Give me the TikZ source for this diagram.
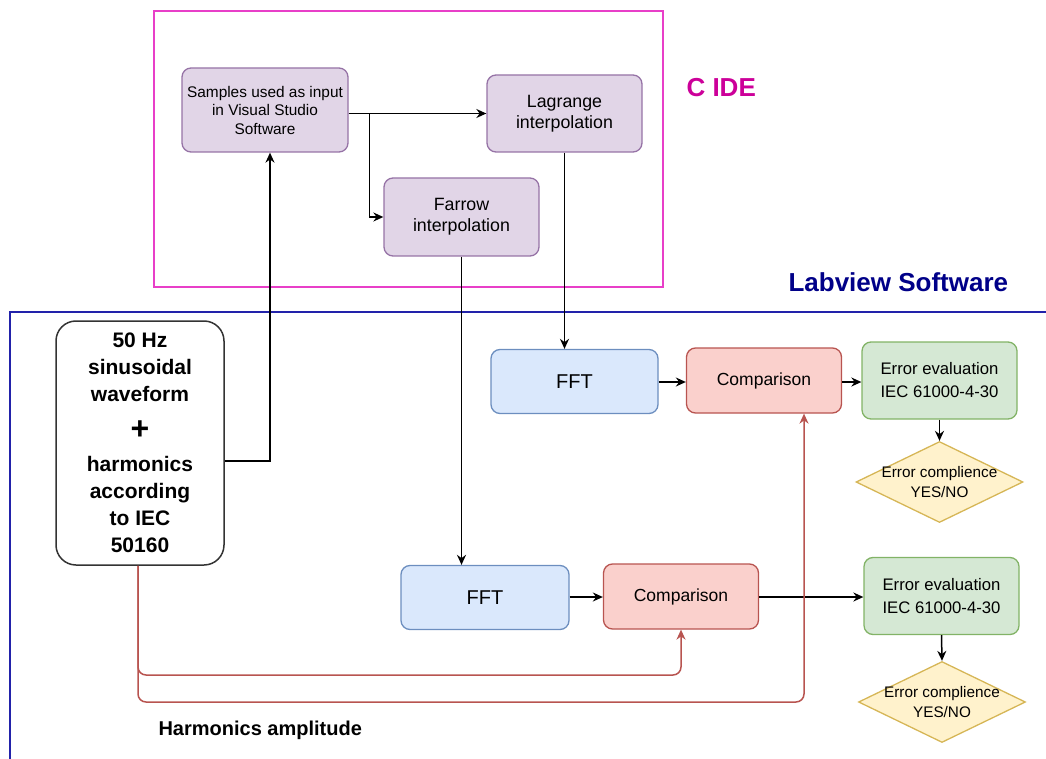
\documentclass[tikz,border=0pt]{standalone}
\usepackage{fontspec}
\setmainfont{Liberation Sans}
\usetikzlibrary{arrows.meta,shapes.geometric}
\definecolor{purpF}{HTML}{E1D5E7}
\definecolor{purpD}{HTML}{9673A6}
\definecolor{blueF}{HTML}{DAE8FC}
\definecolor{blueD}{HTML}{6C8EBF}
\definecolor{redF}{HTML}{FAD0CC}
\definecolor{redD}{HTML}{B85450}
\definecolor{greenF}{HTML}{D5E8D4}
\definecolor{greenD}{HTML}{82B366}
\definecolor{yelF}{HTML}{FFF2CC}
\definecolor{yelD}{HTML}{D6B656}
\definecolor{pinkD}{HTML}{E83FC8}
\definecolor{pinkT}{HTML}{CC0099}
\definecolor{navyT}{HTML}{000088}
\definecolor{blueL}{HTML}{2222AA}
\begin{document}
\begin{tikzpicture}[x=1pt,y=-1pt,
  box/.style={rounded corners=9pt, line width=1.3pt, align=center, inner sep=0pt},
  purp/.style={box, fill=purpF, draw=purpD},
  fftbox/.style={box, fill=blueF, draw=blueD, minimum height=64pt, font=\fontsize{20}{24}\selectfont},
  compbox/.style={box, fill=redF, draw=redD, minimum width=155pt, minimum height=65pt, font=\fontsize{17.5}{21}\selectfont},
  evalbox/.style={box, fill=greenF, draw=greenD, minimum width=155pt, minimum height=77pt, font=\fontsize{16.7}{23}\selectfont},
  decis/.style={diamond, fill=yelF, draw=yelD, line width=1.3pt, inner sep=0pt, minimum width=167pt, minimum height=81pt},
  decistext/.style={align=center, font=\fontsize{15.3}{20}\selectfont},
  arr/.style={line width=1.5pt, -{Stealth[length=10pt,width=9pt]}},
  redarr/.style={line width=1.5pt, draw=redD, rounded corners=8pt, -{Stealth[length=10pt,width=9pt]}},
]
\useasboundingbox (0,0) rectangle (1046,759);

% frames
\draw[pinkD, line width=1.5pt] (154,11) rectangle (663,287);
\node[anchor=west, text=pinkT, font=\fontsize{26}{30}\selectfont\bfseries] (cide) at (683,88) {C IDE};
\draw[blueL, line width=1.5pt] (1046,312) -- (10,312) -- (10,759);
\node[anchor=west, text=navyT, font=\fontsize{26}{30}\selectfont\bfseries] (labv) at (785,282) {Labview Software};

% C IDE boxes
\node[purp, minimum width=166pt, minimum height=84pt, font=\fontsize{15.4}{18.5}\selectfont] (samples) at (265,110) {Samples used as input\\in Visual Studio\\Software};
\node[purp, minimum width=155pt, minimum height=77pt, font=\fontsize{17.8}{21}\selectfont] (lagr) at (564.5,113.5) {Lagrange\\interpolation};
\node[purp, minimum width=155pt, minimum height=78pt, font=\fontsize{17.8}{21}\selectfont] (farr) at (461.5,217) {Farrow\\interpolation};

% source
\node[box, rounded corners=20pt, draw=black!80, fill=white, line width=1.5pt, minimum width=168pt, minimum height=244pt, font=\fontsize{21}{27}\selectfont\bfseries] (src) at (140,443)
  {50 Hz\\sinusoidal\\waveform\\[11pt]{\fontsize{32}{27}\selectfont +}\\[5pt]harmonics\\according\\to IEC\\50160};

% Labview boxes
\node[fftbox, minimum width=167pt] (fft1) at (574.5,381.5) {FFT};
\node[compbox] (comp1) at (764,380.5) {Comparison};
\node[evalbox] (eval1) at (939.5,380.5) {Error evaluation\\IEC 61000-4-30};
\node[decis, label={[decistext]center:Error complience\\YES/NO}] (dec1) at (939.5,482) {};

\node[fftbox, minimum width=168pt] (fft2) at (485,597.5) {FFT};
\node[compbox] (comp2) at (681,596.5) {Comparison};
\node[evalbox] (eval2) at (941.5,596) {Error evaluation\\IEC 61000-4-30};
\node[decis, label={[decistext]center:Error complience\\YES/NO}] (dec2) at (942,702) {};

\node[anchor=west, font=\fontsize{20}{24}\selectfont\bfseries] (harm) at (155,730) {Harmonics amplitude};

% connectors
\draw[arr] (samples.east |- lagr.west) -- (lagr.west);
\draw[arr] (samples.east |- lagr.west) -- ++(21,0) |- (farr.west);
\draw[arr] (src.east |- 0,461) -| ([xshift=5pt]samples.south);
\draw[arr] (lagr.south) -- (lagr.south |- fft1.north);
\draw[arr] (farr.south) -- (farr.south |- fft2.north);
\draw[arr] (fft1.east |- 0,382) -- (comp1.west |- 0,382);
\draw[arr] (comp1.east |- 0,382) -- (eval1.west |- 0,382);
\draw[arr] (eval1.south) -- (dec1.north);
\draw[arr] (fft2.east |- 0,597) -- (comp2.west |- 0,597);
\draw[arr] (comp2.east |- 0,597) -- (eval2.west |- 0,597);
\draw[arr] (eval2.south) -- (dec2.north);
\draw[redarr] ([xshift=-2pt]src.south) |- (681,675) -- (comp2.south);
\draw[redarr] ([xshift=-2pt]src.south) |- (804,702) -- (804,0 |- comp1.south);
\end{tikzpicture}
\end{document}
